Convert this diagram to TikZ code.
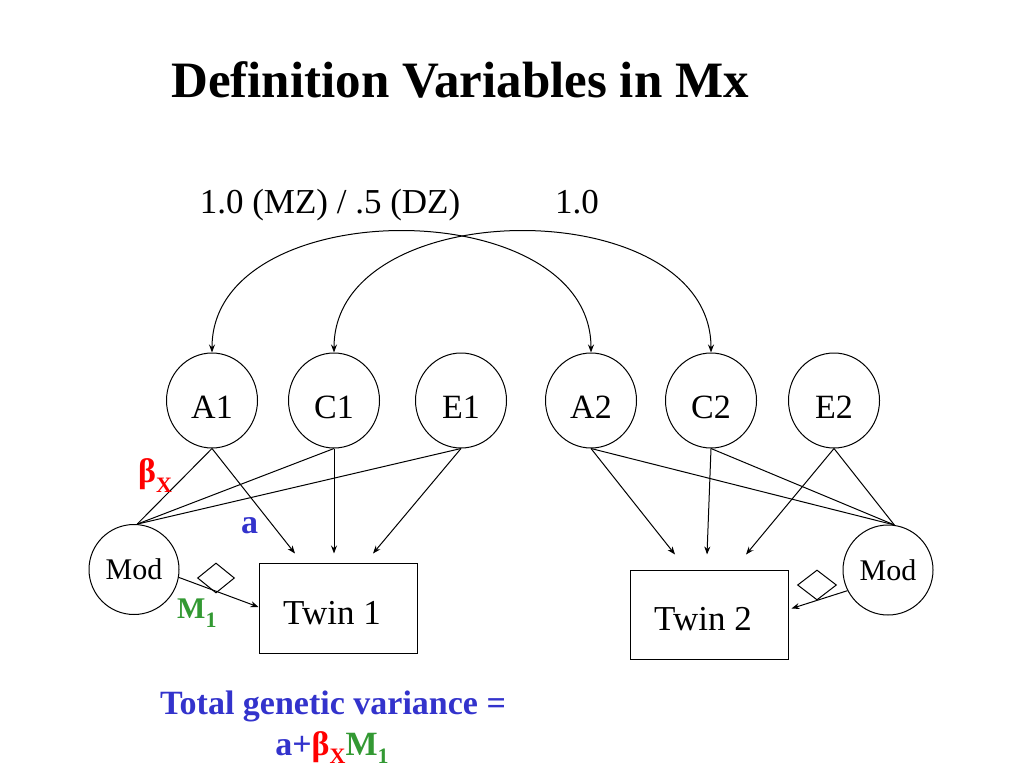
\documentclass[tikz,border=0pt]{standalone}
\usepackage{fontspec}
\setmainfont{Liberation Serif}
\usetikzlibrary{shapes.geometric,arrows.meta,calc}
\definecolor{vblue}{RGB}{51,51,204}
\definecolor{vred}{RGB}{255,0,0}
\definecolor{vgreen}{RGB}{51,153,51}
\newcommand\fs[1]{\fontsize{#1}{#1}\selectfont}
\begin{document}
\begin{tikzpicture}[x=1pt,y=-1pt,
  latent/.style={ellipse,draw,line width=1pt,minimum width=91pt,minimum height=95pt,inner sep=0pt},
  latlabel/.style={font=\fs{34},yshift=-7pt},
  modnode/.style={circle,draw,line width=1pt,minimum size=90pt,inner sep=0pt,font=\fs{30}},
  obs/.style={rectangle,draw,line width=1pt,minimum width=158pt,minimum height=90pt,inner sep=0pt},
  obslabel/.style={font=\fs{35},xshift=-6pt,yshift=-5pt},
  dia/.style={diamond,draw,line width=1pt,minimum width=37pt,minimum height=30pt,inner sep=0pt},
  arr/.style={line width=1pt,-{Stealth[length=8pt,width=6pt]}},
  dblarr/.style={line width=1pt,{Stealth[length=8pt,width=6pt]}-{Stealth[length=8pt,width=6pt]}},
  plainln/.style={line width=1pt},
  txt/.style={inner sep=0pt,anchor=base}
]
\useasboundingbox (0,0) rectangle (1024,768);

% title and covariance labels
\node[txt,anchor=base west,font=\fs{51}\bfseries] (title) at (171,97) {Definition Variables in Mx};
\node[txt,font=\fs{35}] (covlab1) at (330,213) {1.0 (MZ) / .5 (DZ)};
\node[txt,font=\fs{35}] (covlab2) at (577,213) {1.0};

% latent variables
\node[latent,label={[latlabel]center:A1}] (A1) at (212,400.5) {};
\node[latent,label={[latlabel]center:C1}] (C1) at (334,400.5) {};
\node[latent,label={[latlabel]center:E1}] (E1) at (461,400.5) {};
\node[latent,label={[latlabel]center:A2}] (A2) at (591,400.5) {};
\node[latent,label={[latlabel]center:C2}] (C2) at (711,400.5) {};
\node[latent,label={[latlabel]center:E2}] (E2) at (834,400.5) {};

% moderators
\node[modnode] (Mod1) at (134,569.5) {Mod};
\node[modnode] (Mod2) at (888,570) {Mod};

% observed
\node[obs,label={[obslabel]center:Twin 1}] (Twin1) at (338,608) {};
\node[obs,minimum height=89pt,label={[obslabel]center:Twin 2}] (Twin2) at (709,614.5) {};

% definition-variable diamonds
\node[dia] (D1) at (216,578) {};
\node[dia,minimum width=39pt] (D2) at (817,585) {};

% covariance curves
\draw[dblarr] (A1.north) .. controls +(0,-161) and +(0,-161) .. (A2.north);
\draw[dblarr] (C1.north) .. controls +(0,-161) and +(0,-161) .. (C2.north);

% moderation lines
\draw[plainln] (Mod1.86) -- (A1.south);
\draw[plainln] (Mod1.86) -- (C1.south);
\draw[plainln] (Mod1.86) -- (E1.south);
\draw[plainln] (Mod2.82) -- (A2.south);
\draw[plainln] (Mod2.82) -- (C2.south);
\draw[plainln] (Mod2.82) -- (E2.south);

% paths to twins
\draw[arr] (A1.south) -- ([xshift=-43pt,yshift=9pt]Twin1.north);
\draw[arr] (C1.south) -- ([xshift=-4pt,yshift=9pt]Twin1.north);
\draw[arr] (E1.south) -- ([xshift=35pt,yshift=9pt]Twin1.north);
\draw[arr] (A2.south) -- ([xshift=-34pt,yshift=15pt]Twin2.north);
\draw[arr] (C2.south) -- ([xshift=-2pt,yshift=15pt]Twin2.north);
\draw[arr] (E2.south) -- ([xshift=37pt,yshift=15pt]Twin2.north);

\draw[arr] (Mod1.-10) -- ([yshift=1pt]Twin1.west);
\draw[arr] (Mod2.207) -- ([xshift=3pt,yshift=6pt]Twin2.east);

% path labels
\node[txt,anchor=base west,text=vred,font=\fs{34}\bfseries] (bx) at (138,482) {β\raisebox{-10pt}{\fs{22}X}};
\node[txt,anchor=base west,text=vblue,font=\fs{34}\bfseries] (la) at (241,533) {a};
\node[txt,anchor=base west,text=vgreen,font=\fs{30}\bfseries] (lm) at (177,618) {M\raisebox{-9pt}{\fs{22}1}};

% bottom text
\node[txt,text=vblue,font=\fs{34}\bfseries] (tot1) at (333,714) {Total genetic variance =};
\node[txt,font=\fs{34}\bfseries] (tot2) at (332,755) {\textcolor{vblue}{a+}\textcolor{vred}{β\raisebox{-8pt}{\fs{22}X}}\textcolor{vgreen}{M\raisebox{-8pt}{\fs{22}1}}};
\end{tikzpicture}
\end{document}
